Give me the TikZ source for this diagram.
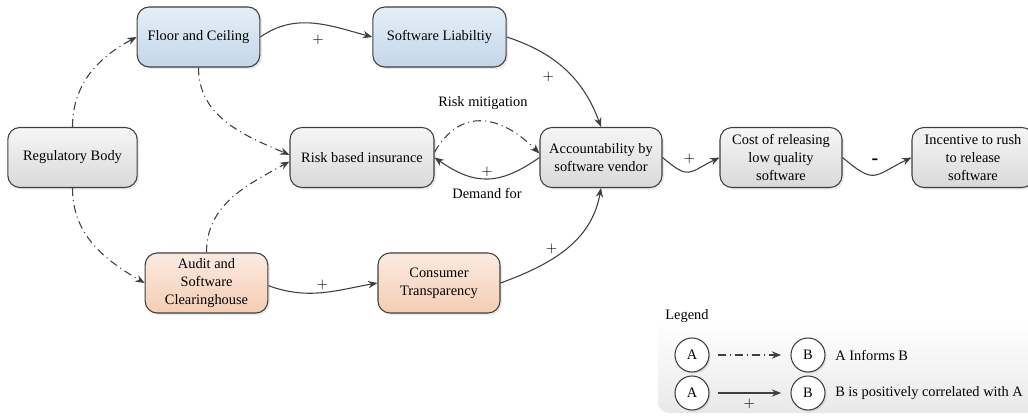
\documentclass[tikz,border=0pt]{standalone}
\usepackage{fontspec}
\setmainfont{Liberation Serif}
\usetikzlibrary{arrows.meta,shadows,positioning}

\definecolor{linegray}{HTML}{3F3F3F}
\definecolor{greytop}{HTML}{F6F6F6}
\definecolor{greybot}{HTML}{D9D9D9}
\definecolor{bluetop}{HTML}{E6EFF8}
\definecolor{bluebot}{HTML}{C2D6EA}
\definecolor{peachtop}{HTML}{FCEBE1}
\definecolor{peachbot}{HTML}{F5CDB3}
\definecolor{legendbot}{HTML}{E9E9E9}

\begin{document}
\begin{tikzpicture}[x=0.75pt,y=0.75pt,
	font=\fontsize{10.8}{13.2}\selectfont,
	block/.style={shape=rectangle, rounded corners=9pt, draw=linegray, line width=0.8pt,
		minimum width=91.5pt, minimum height=45pt, inner sep=1pt, align=center,
		drop shadow={opacity=0.18, shadow xshift=1.5pt, shadow yshift=-1.5pt}},
	greyblock/.style={block, top color=greytop, bottom color=greybot},
	blueblock/.style={block, top color=bluetop, bottom color=bluebot},
	peachblock/.style={block, top color=peachtop, bottom color=peachbot},
	token/.style={shape=circle, draw=linegray, line width=0.8pt, fill=white,
		minimum size=25.5pt, inner sep=0pt,
		drop shadow={opacity=0.18, shadow xshift=1.2pt, shadow yshift=-1.2pt}},
	corr/.style={draw=linegray, line width=0.8pt, -{Stealth[length=7pt,width=5.5pt]}},
	informs/.style={corr, dash pattern=on 6pt off 3pt on 0.8pt off 3pt}]
	\useasboundingbox (0,0) rectangle (1028,415);
	% legend background
	\path[rounded corners=8pt, top color=white, bottom color=legendbot] (658,2) rectangle (1040,93);

	\path (72.5,257.5) node (1) [greyblock, minimum width=97pt] {Regulatory Body}
		  (198.5,378) node (2) [blueblock, minimum width=92pt] {Floor and Ceiling}
		  (439.5,378) node (3) [blueblock, minimum width=100pt] {Software Liabiltiy}
		  (362,257.5) node (4) [greyblock, minimum width=108pt] {Risk based insurance}
		  (601,257.5) node (5) [greyblock] {Accountability by\\software vendor}
		  (781,257.5) node (6) [greyblock] {Cost of releasing\\low quality\\software}
		  (973,257.5) node (7) [greyblock] {Incentive to rush\\to release\\software}
		  (206.5,132) node (8) [peachblock, minimum width=92pt] {Audit and\\Software\\Clearinghouse}
		  (439,132) node (9) [peachblock] {Consumer\\Transparency};

	\draw[informs] (1.north) to[out=90,in=208] (2.west);
	\draw[informs] (1.south) to[out=-90,in=150] (8.west);
	\draw[informs] (2.south) to[out=-90,in=157] ([yshift=2pt]4.west);
	\draw[informs] (8.north) to[out=90,in=209] ([yshift=-3pt]4.west);
	\draw[corr] (2.east) to[out=35,in=165] node[xshift=3pt,yshift=-12pt] {$+$} (3.west);
	\draw[corr] (3.east) to[out=-18,in=110] node[pos=.6,xshift=-19.5pt,yshift=2pt] {$+$} (5.north);
	\draw[corr] ([yshift=-2pt]8.east) to[out=-20,in=190] node[yshift=6pt] {$+$} (9.west);
	\draw[corr] (9.east) to[out=20,in=260] node[xshift=-11pt] {$+$} (5.south);
	\draw[corr] (5.east) to[out=-40,in=206,looseness=1.6] node[yshift=10pt] {$+$} (6.west);
	\draw[corr] (6.east) to[out=-40,in=206,looseness=1.6] node[yshift=10pt] {\fontsize{15}{15}\selectfont\textbf{-}} (7.west);
	\draw[informs] ([yshift=4pt]4.east) to[out=60,in=135,looseness=1.3] node[yshift=13.5pt] {Risk mitigation} ([yshift=3pt]5.west);
	\draw[corr] (5.west) to[out=215,in=-35,looseness=1.2] node[yshift=5pt] {$+$} node[yshift=-11pt] {Demand for} (4.east);

	% legend
	\path (687,99) node (14) {Legend}
		  (692,60) node (10) [token] {A}
		  (808,60) node (11) [token] {B}
		  (692,22) node (12) [token] {A}
		  (808,22) node (13) [token] {B}
		  (835,60) node (15) [anchor=west, inner sep=0pt] {A Informs B}
		  (835,22) node (16) [anchor=west, inner sep=0pt] {B is positively correlated with A};
	\draw[informs] ([xshift=6pt]10.east) -- ([xshift=-7pt]11.west);
	\draw[corr] ([xshift=6pt]12.east) -- node[yshift=-8pt] {$+$} ([xshift=-7pt]13.west);
\end{tikzpicture}
\end{document}
